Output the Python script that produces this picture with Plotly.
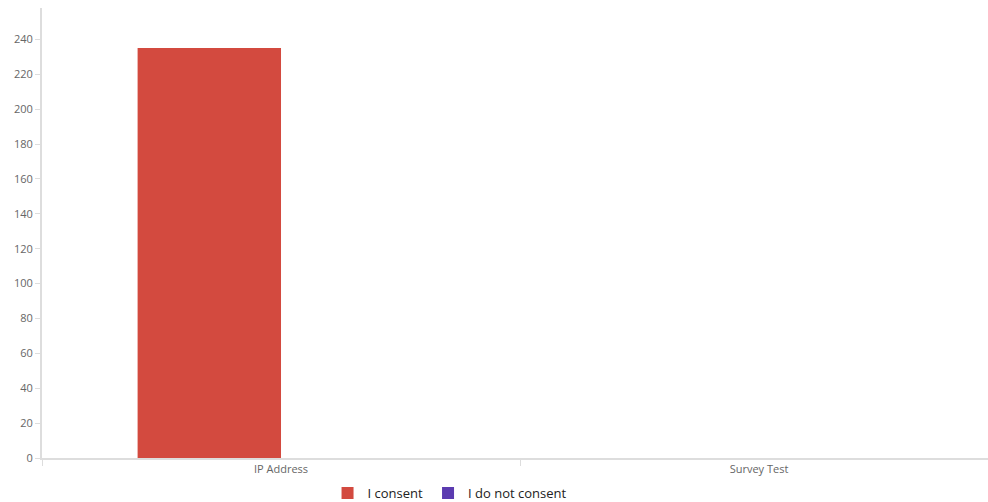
import plotly.graph_objects as go

categories = ["IP Address", "Survey Test"]
consent = [235, 0]
not_consent = [0, 0]
y_ticks = list(range(0, 241, 20))

fig = go.Figure()
fig.add_trace(go.Bar(name="I consent", x=categories, y=consent, marker_color="#D34A3F",
                     marker_line_width=0))
fig.add_trace(go.Bar(name="I do not consent", x=categories, y=not_consent, marker_color="#5B3BB0",
                     marker_line_width=0))

fig.update_layout(
    width=988, height=502,
    margin=dict(l=42, r=0, t=8, b=44, autoexpand=False),
    paper_bgcolor="white", plot_bgcolor="white",
    barmode="group", bargap=0.4, bargroupgap=0,
    font=dict(family="Open Sans, DejaVu Sans, sans-serif", size=11, color="#666666"),
    showlegend=True,
    legend=dict(orientation="h", x=0.455, xanchor="center", xref="container",
                y=0.018, yanchor="middle", yref="container",
                font=dict(size=13, color="#222222"), itemwidth=30,
                traceorder="normal", bgcolor="rgba(0,0,0,0)"),
)
fig.update_xaxes(range=[-0.5, 1.479], showgrid=False, showline=True, linecolor="#DDDDDD",
                 linewidth=2, ticks="outside", tickson="boundaries", ticklen=6,
                 tickcolor="#DDDDDD", tickfont=dict(size=11, color="#666666"), zeroline=False,
                 automargin=False)
fig.update_yaxes(range=[0, 258], tickvals=y_ticks, showgrid=False, showline=True,
                 linecolor="#DDDDDD", linewidth=2, ticks="outside", ticklen=5,
                 tickcolor="#DDDDDD", tickfont=dict(size=11, color="#666666"), zeroline=False,
                 automargin=False)

fig.write_html("out.html")
